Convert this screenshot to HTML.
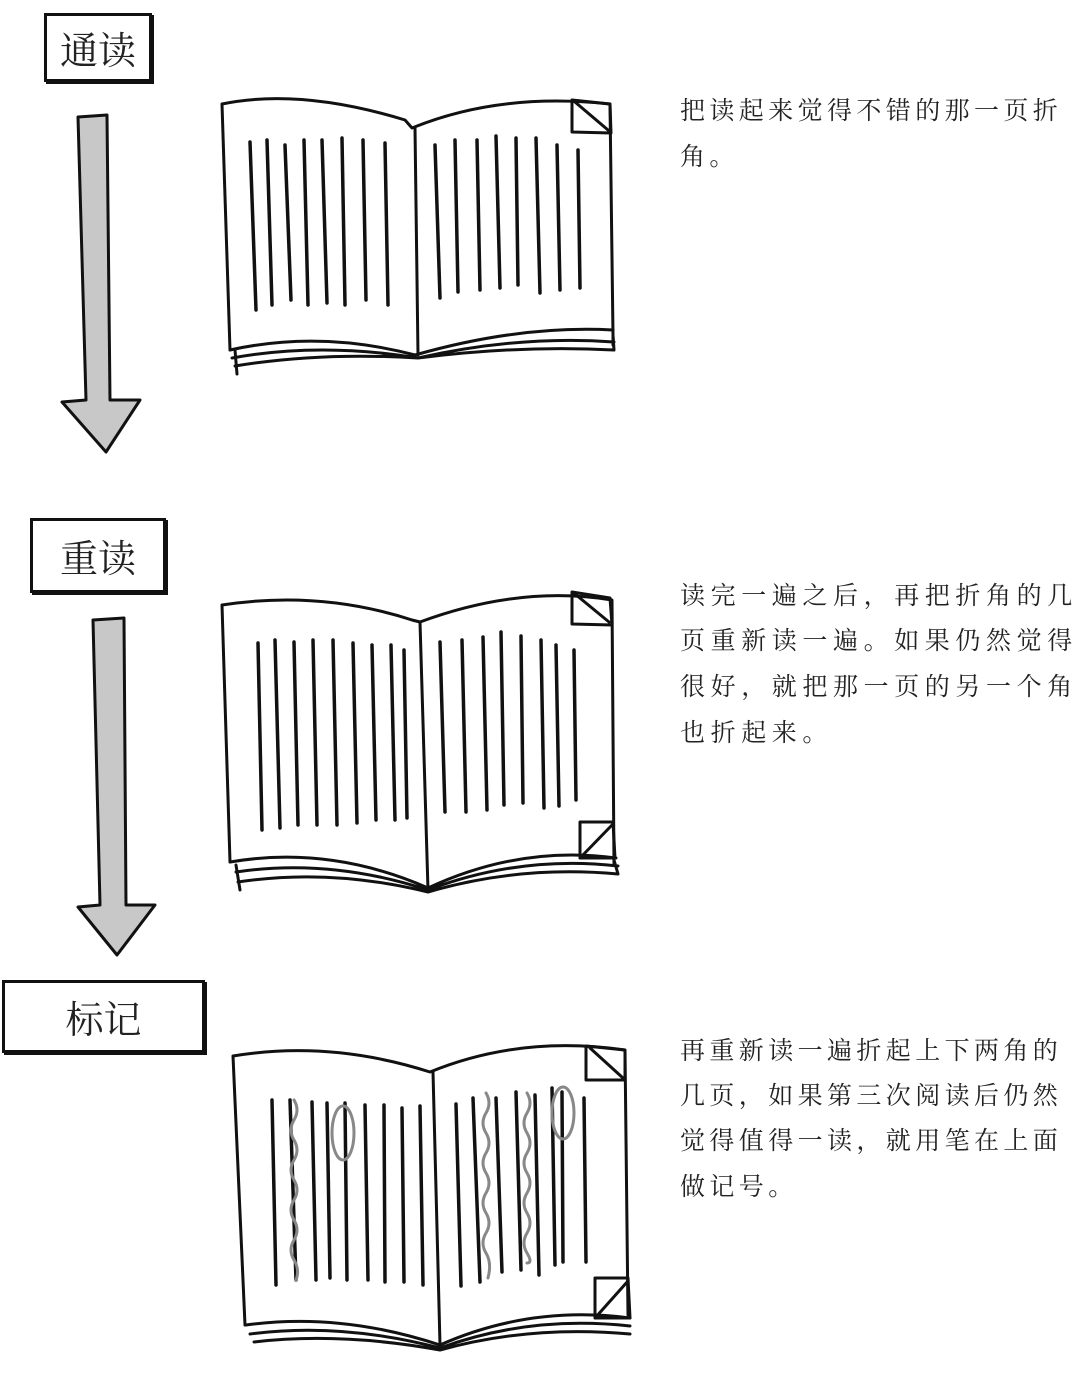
<!DOCTYPE html>
<html><head><meta charset="utf-8"><style>
body{margin:0;background:#fff;width:1081px;height:1396px;position:relative;overflow:hidden}
.t{position:absolute;left:680px;font-family:"Liberation Serif","Noto Serif CJK SC",serif;font-size:25px;color:#222;white-space:nowrap;line-height:30px}
.a{letter-spacing:4.4px}.b{letter-spacing:5.6px}
.lab{position:absolute;border:3px solid #111;box-shadow:2px 2px 0 #111;background:#fff;font-family:"Noto Serif CJK SC",serif;font-size:38px;color:#222;display:flex;align-items:center;justify-content:center;box-sizing:border-box}
svg{position:absolute;left:0;top:0}
</style></head><body>
<svg width="1081" height="1396" fill="none" stroke="#111" stroke-width="3" stroke-linecap="round" stroke-linejoin="round">
<path d="M78,117 L107,115 L110,400 L140,400 L106,452 L62,402 L86,400 Z" fill="#c8c8c8"/>
<path d="M93,620 L124,618 L126,905 L155,905 L117,955 L78,907 L100,905 Z" fill="#c8c8c8"/>
<path d="M222,104 Q300,88 405,120 L412,128 Q500,92 610,104 L613,335 L613,345 M222,104 L230,350 M415,128 L418,355"/>
<path d="M230,350 Q320,330 415,355 Q520,325 613,330 M232,358 Q320,342 418,358 Q520,335 614,342 M235,366 Q320,352 418,358 Q520,345 614,350 M237,374 L235,350 M614,350 L613,335"/>
<path d="M572,100 L610,104 L611,133 L572,132 Z M575,102 L608,130"/>
<g stroke-width="3.5">
<path d="M250,142 L256,310 M267,140 L272,305 M285,145 L291,300 M304,140 L308,305 M322,140 L327,303 M342,138 L345,305 M363,140 L366,300 M385,143 L388,305"/>
<path d="M435,145 L440,298 M455,140 L458,292 M477,140 L480,290 M496,136 L500,288 M516,138 L518,285 M536,138 L540,293 M557,145 L560,290 M578,150 L580,288"/>
</g>
<path d="M222,605 Q320,590 412,620 L420,622 Q520,585 612,600 L614,865 M222,605 L230,862 M420,622 L428,890"/>
<path d="M230,862 Q330,845 428,888 Q520,845 616,858 M236,872 Q330,858 428,890 Q520,855 618,866 M238,882 Q330,868 428,892 Q520,865 618,874 M240,890 L236,865 M618,874 L614,860"/>
<path d="M572,592 L610,598 L612,625 L572,624 Z M575,594 L609,622"/>
<path d="M580,822 L613,822 L615,858 L580,858 Z M580,858 L613,824"/>
<g stroke-width="3.5">
<path d="M258,643 L262,830 M275,640 L280,828 M294,642 L298,825 M313,640 L317,825 M333,640 L337,825 M353,643 L357,823 M372,645 L376,820 M391,645 L395,820 M404,650 L407,818"/>
<path d="M440,642 L445,812 M462,640 L466,812 M483,637 L487,810 M501,632 L504,805 M521,636 L523,803 M541,640 L544,808 M556,645 L559,806 M574,650 L576,800"/>
</g>
<path d="M233,1056 Q330,1040 430,1072 Q520,1035 625,1050 L628,1315 M233,1056 L245,1325 M433,1072 L440,1345"/>
<path d="M246,1325 Q340,1312 440,1345 Q530,1305 630,1318 M250,1334 Q340,1322 440,1348 Q530,1315 630,1326 M254,1342 Q340,1332 440,1350 Q530,1325 630,1334"/>
<path d="M586,1046 L625,1050 L625,1080 L586,1080 Z M590,1048 L623,1078"/>
<path d="M595,1278 L628,1278 L630,1318 L595,1318 Z M595,1318 L628,1281"/>
<g stroke-width="3.5">
<path d="M272,1100 L276,1285 M290,1100 L296,1280 M312,1102 L316,1280 M327,1103 L330,1278 M345,1103 L347,1280 M365,1105 L368,1280 M384,1105 L385,1282 M402,1108 L404,1282 M420,1106 L423,1285"/>
<path d="M456,1104 L461,1286 M473,1098 L480,1282 M496,1098 L502,1272 M516,1092 L521,1270 M535,1095 L539,1275 M552,1088 L555,1265 M562,1092 L563,1262 M584,1098 L586,1262"/>
</g>
<g stroke="#888" stroke-width="3">
<path d="M294,1100 q6,10 0,20 q-6,10 0,20 q6,10 0,20 q-6,10 0,20 q6,10 0,20 q-6,10 0,20 q6,10 0,20 q-6,10 0,20 q6,10 2,20"/>
<path d="M486,1093 q6,10 0,20 q-6,10 0,20 q6,10 0,20 q-6,10 0,20 q6,10 0,20 q-6,10 0,20 q6,10 0,20 q-6,10 0,20 q6,10 2,25"/>
<path d="M527,1093 q6,10 0,20 q-6,10 0,20 q6,10 0,20 q-6,10 0,20 q6,10 0,20 q-6,10 0,20 q6,10 0,20 q-6,10 0,20 q6,10 0,10"/>
<ellipse cx="343" cy="1133" rx="11" ry="27"/>
<ellipse cx="563" cy="1113" rx="11" ry="26"/>
</g>
</svg>
<div class="lab" style="left:44px;top:13px;width:108px;height:69px">通读</div>
<div class="lab" style="left:30px;top:518px;width:136px;height:75px">重读</div>
<div class="lab" style="left:2px;top:980px;width:203px;height:73px">标记</div>
<div class="t a" style="top:97px">把读起来觉得不错的那一页折</div>
<div class="t a" style="top:143px">角。</div>
<div class="t b" style="top:582px">读完一遍之后，再把折角的几</div>
<div class="t b" style="top:627px">页重新读一遍。如果仍然觉得</div>
<div class="t b" style="top:673px">很好，就把那一页的另一个角</div>
<div class="t b" style="top:719px">也折起来。</div>
<div class="t a" style="top:1037px">再重新读一遍折起上下两角的</div>
<div class="t a" style="top:1082px">几页，如果第三次阅读后仍然</div>
<div class="t a" style="top:1127px">觉得值得一读，就用笔在上面</div>
<div class="t a" style="top:1173px">做记号。</div>
</body></html>
